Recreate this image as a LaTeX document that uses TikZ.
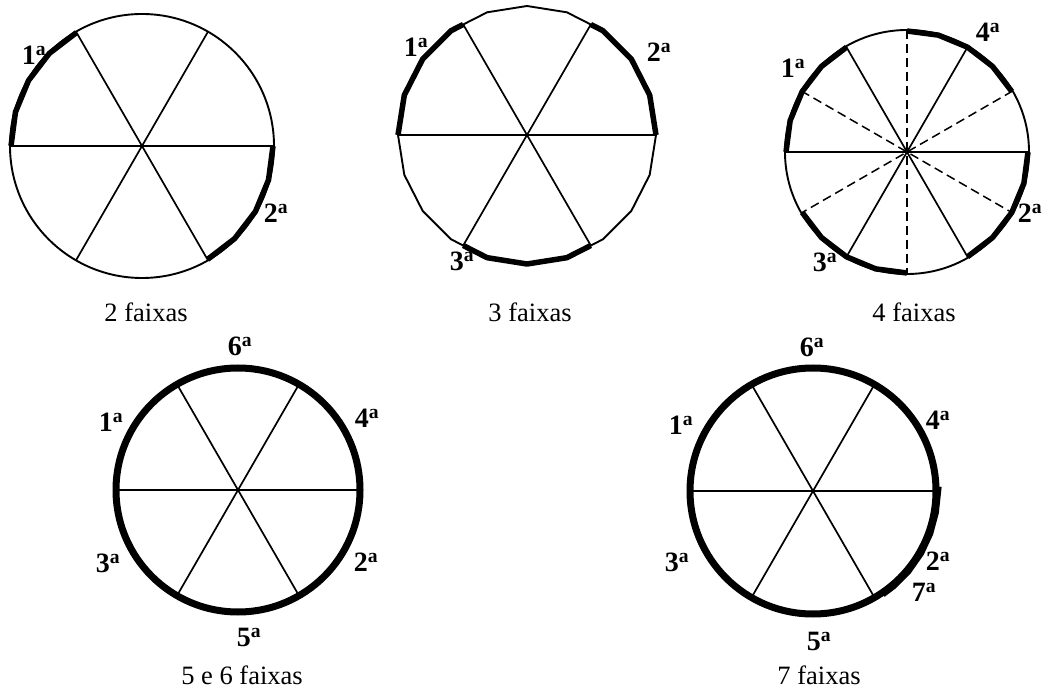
\documentclass[tikz,border=0pt]{standalone}
\usepackage{fontspec}
\setmainfont{Liberation Serif}
\newcommand{\ordn}[1]{#1\textsuperscript{a}}
\begin{document}
\begin{tikzpicture}[x=1pt,y=1pt,
  spoke/.style={line width=1.7pt},
  dspoke/.style={line width=1.5pt,dash pattern=on 9pt off 5pt},
  rim/.style={line width=1.9pt},
  band/.style={line width=5.5pt,line join=round},
  bigband/.style={line width=7pt},
  lab/.style={font=\bfseries\fontsize{28}{28}\selectfont,inner sep=0pt},
  captxt/.style={font=\fontsize{26.5}{26.5}\selectfont,inner sep=0pt}]
\useasboundingbox (0,0) rectangle (1043,688);
% centres
\coordinate (c1) at (142,542);
\coordinate (c2) at (527,553);
\coordinate (c3) at (907,536);
\coordinate (c4) at (238,198);
\coordinate (c5) at (813,197);

% ---------- circle 1 : 2 faixas ----------
\draw[rim] (c1) circle[radius=132];
\foreach \a in {0,60,120}
  \draw[spoke] ([shift={(\a:132)}]c1) -- ([shift={(\a+180:132)}]c1);
\draw[band] ([shift={(180:131)}]c1) \foreach \t in {165,150,135,120}{ -- ([shift={(\t:131)}]c1)};
\draw[band] ([shift={(0:131)}]c1) \foreach \t in {-15,-30,-45,-60}{ -- ([shift={(\t:131)}]c1)};
\node[lab] (l11) at (34,633) {\ordn{1}};
\node[lab] (l12) at (276,475) {\ordn{2}};
\node[captxt] (t1) at (146,376) {2 faixas};

% ---------- circle 2 : 3 faixas ----------
\draw[rim,line join=round] ([shift={(0:129)}]c2) \foreach \t in {18,36,...,342}{ -- ([shift={(\t:129)}]c2)} -- cycle;
\draw[spoke] ([shift={(0:129)}]c2) -- ([shift={(180:129)}]c2);
\draw[spoke] ([shift={(60:127.6)}]c2) -- ([shift={(240:127.6)}]c2);
\draw[spoke] ([shift={(120:127.6)}]c2) -- ([shift={(300:127.6)}]c2);
\draw[band] ([shift={(120:127.6)}]c2) -- ([shift={(126:129)}]c2) -- ([shift={(144:129)}]c2) -- ([shift={(162:129)}]c2) -- ([shift={(180:129)}]c2);
\draw[band] ([shift={(60:127.6)}]c2) -- ([shift={(54:129)}]c2) -- ([shift={(36:129)}]c2) -- ([shift={(18:129)}]c2) -- ([shift={(0:129)}]c2);
\draw[band] ([shift={(240:127.6)}]c2) -- ([shift={(252:129)}]c2) -- ([shift={(270:129)}]c2) -- ([shift={(288:129)}]c2) -- ([shift={(300:127.6)}]c2);
\node[lab] (l21) at (416,641) {\ordn{1}};
\node[lab] (l22) at (659,636) {\ordn{2}};
\node[lab] (l23) at (462,427) {\ordn{3}};
\node[captxt] (t2) at (530,376) {3 faixas};

% ---------- circle 3 : 4 faixas ----------
\draw[rim] (c3) circle[radius=122];
\foreach \a in {0,60,120}
  \draw[spoke] ([shift={(\a:122)}]c3) -- ([shift={(\a+180:122)}]c3);
\foreach \a in {30,90,150}
  \draw[dspoke] ([shift={(\a:122)}]c3) -- ([shift={(\a+180:122)}]c3);
\draw[band] ([shift={(180:121)}]c3) \foreach \t in {165,150,135,120}{ -- ([shift={(\t:121)}]c3)};
\draw[band] ([shift={(90:121)}]c3) \foreach \t in {75,60,45,30}{ -- ([shift={(\t:121)}]c3)};
\draw[band] ([shift={(0:121)}]c3) \foreach \t in {-15,-30,-45,-60}{ -- ([shift={(\t:121)}]c3)};
\draw[band] ([shift={(210:121)}]c3) \foreach \t in {225,240,255,270}{ -- ([shift={(\t:121)}]c3)};
\node[lab] (l31) at (793,620) {\ordn{1}};
\node[lab] (l34) at (988,656) {\ordn{4}};
\node[lab] (l32) at (1030,475) {\ordn{2}};
\node[lab] (l33) at (825,426) {\ordn{3}};
\node[captxt] (t3) at (914,376) {4 faixas};

% ---------- circle 4 : 5 e 6 faixas ----------
\draw[bigband] (c4) circle[radius=122];
\foreach \a in {0,60,120}
  \draw[spoke] ([shift={(\a:122)}]c4) -- ([shift={(\a+180:122)}]c4);
\node[lab] (l46) at (240,342) {\ordn{6}};
\node[lab] (l41) at (111,266) {\ordn{1}};
\node[lab] (l44) at (367,270) {\ordn{4}};
\node[lab] (l43) at (108,125) {\ordn{3}};
\node[lab] (l42) at (366,126) {\ordn{2}};
\node[lab] (l45) at (249,51) {\ordn{5}};
\node[captxt] (t4) at (242,13) {5 e 6 faixas};

% ---------- circle 5 : 7 faixas ----------
\draw[bigband] (c5) circle[radius=123];
\foreach \a in {0,60,120}
  \draw[spoke] ([shift={(\a:123)}]c5) -- ([shift={(\a+180:123)}]c5);
\draw[band] ([shift={(2:126)}]c5) \foreach \t in {-10,-20,-30,-40,-50,-56}{ -- ([shift={(\t:125)}]c5)};
\node[lab] (l56) at (812,341) {\ordn{6}};
\node[lab] (l51) at (681,263) {\ordn{1}};
\node[lab] (l54) at (938,268) {\ordn{4}};
\node[lab] (l53) at (677,126) {\ordn{3}};
\node[lab] (l52) at (938,127) {\ordn{2}};
\node[lab] (l57) at (924,96) {\ordn{7}};
\node[lab] (l55) at (819,47) {\ordn{5}};
\node[captxt] (t5) at (819,13) {7 faixas};
\end{tikzpicture}
\end{document}
